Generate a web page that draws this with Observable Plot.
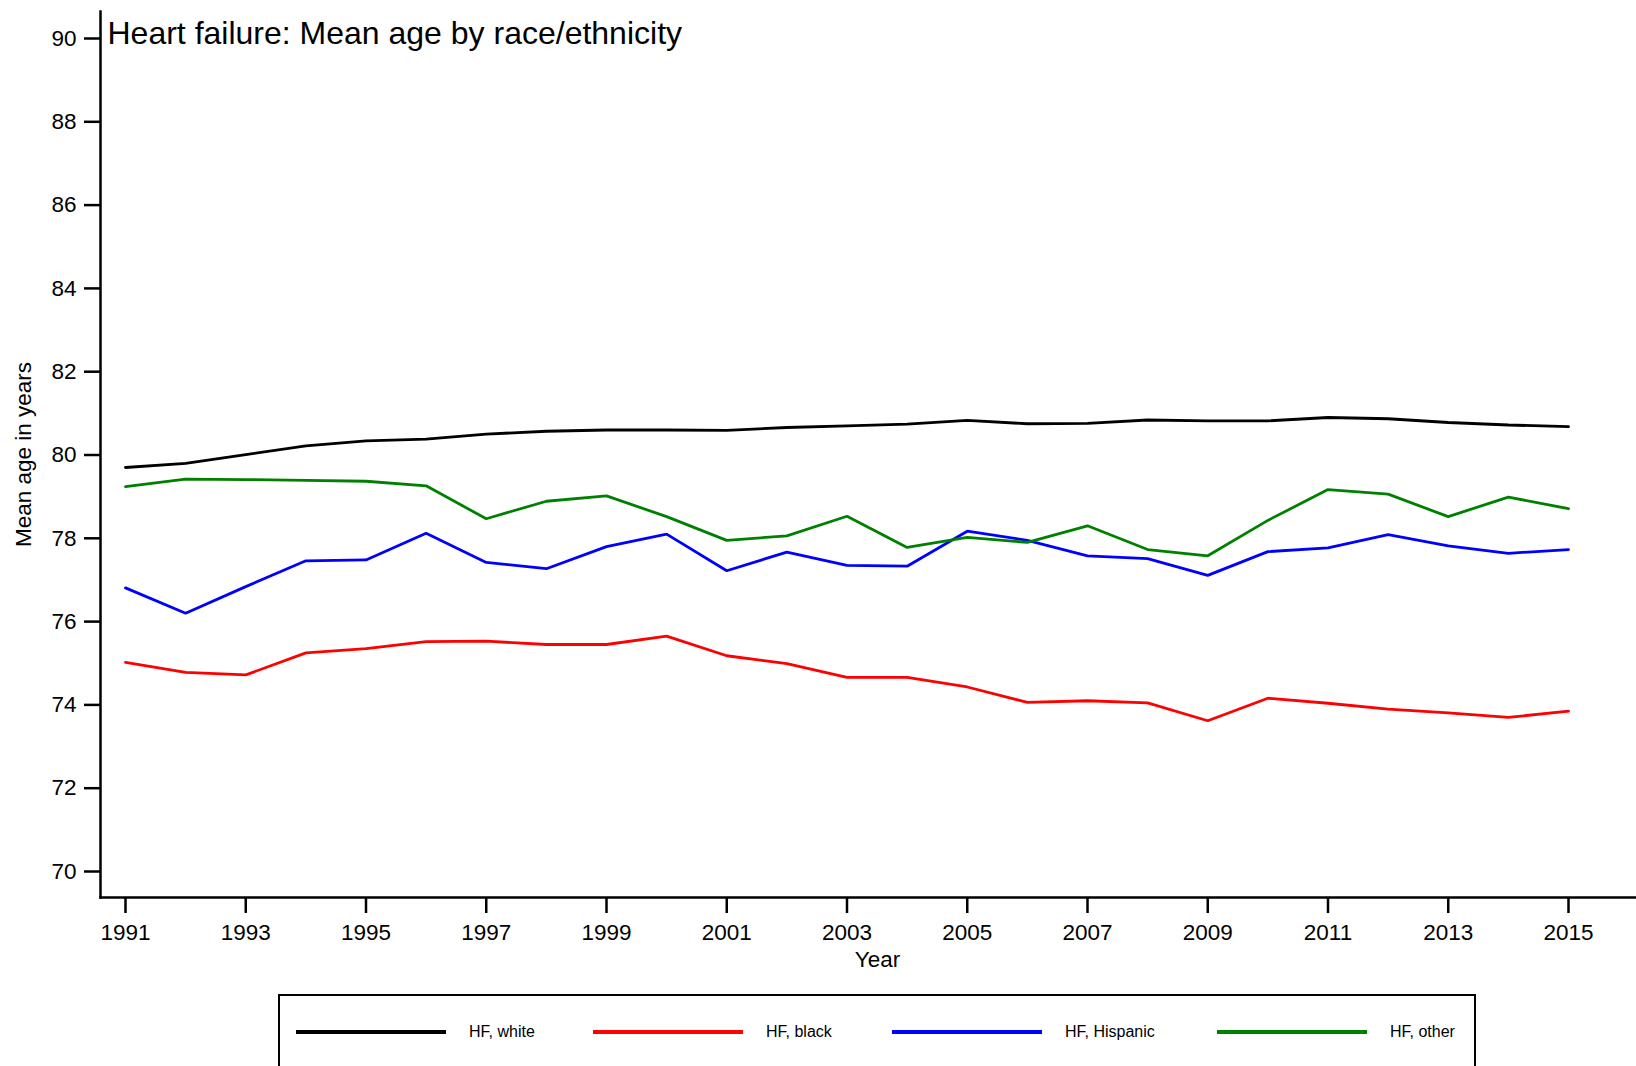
<!DOCTYPE html>
<html>
<head>
<meta charset="utf-8">
<script src="https://cdn.jsdelivr.net/npm/d3@7"></script>
<script src="https://cdn.jsdelivr.net/npm/@observablehq/plot@0.6"></script>
<style>
  html, body { margin: 0; padding: 0; background: #fff; }
  body { width: 1636px; height: 1066px; overflow: hidden; font-family: "Liberation Sans", Arial, Helvetica, sans-serif; color: #000; }
  #chart svg { display: block; }
  #legend { position: relative; margin-left: 278px; margin-top: 14px; width: 1198px; height: 76px; box-sizing: border-box;
            border: 2px solid #000; }
  .swatch { position: absolute; top: 34px; width: 150px; height: 0; border-top: 4px solid; }
  .label { position: absolute; top: 36px; transform: translateY(-50%); font-size: 16px; line-height: 1; white-space: nowrap; }
</style>
</head>
<body>
<div id="chart"></div>
<div id="legend"></div>
<script>
// Heart failure: mean age of patients by race/ethnicity, 1991–2015
const years = [1991, 1992, 1993, 1994, 1995, 1996, 1997, 1998, 1999, 2000, 2001, 2002, 2003,
               2004, 2005, 2006, 2007, 2008, 2009, 2010, 2011, 2012, 2013, 2014, 2015];
const groups = ["HF, white", "HF, black", "HF, Hispanic", "HF, other"];
const white    = [79.70, 79.80, 80.01, 80.22, 80.34, 80.38, 80.50, 80.57, 80.60, 80.60, 80.59, 80.66, 80.70,
                  80.74, 80.83, 80.75, 80.76, 80.84, 80.82, 80.82, 80.90, 80.87, 80.78, 80.72, 80.68];
const black    = [75.02, 74.78, 74.72, 75.25, 75.35, 75.52, 75.53, 75.45, 75.45, 75.65, 75.18, 74.99, 74.66,
                  74.66, 74.43, 74.06, 74.10, 74.05, 73.62, 74.16, 74.04, 73.90, 73.81, 73.70, 73.85];
const hispanic = [76.81, 76.20, 76.84, 77.46, 77.48, 78.12, 77.42, 77.27, 77.80, 78.10, 77.22, 77.67, 77.35,
                  77.33, 78.17, 77.95, 77.58, 77.51, 77.11, 77.68, 77.77, 78.09, 77.82, 77.64, 77.73];
const other    = [79.24, 79.42, 79.41, 79.39, 79.37, 79.26, 78.47, 78.89, 79.02, 78.52, 77.95, 78.06, 78.53,
                  77.78, 78.02, 77.90, 78.30, 77.73, 77.58, 78.43, 79.17, 79.06, 78.52, 78.99, 78.71];
const yearTicks = [1991, 1993, 1995, 1997, 1999, 2001, 2003, 2005, 2007, 2009, 2011, 2013, 2015];
const ageTicks = [70, 72, 74, 76, 78, 80, 82, 84, 86, 88, 90];
const titleText = "Heart failure: Mean age by race/ethnicity";
const xLabel = "Year";
const yLabel = "Mean age in years";

const lineColors = ["#000000", "#ff0000", "#0000ff", "#008000"];
const fontFamily = '"Liberation Sans", Arial, Helvetica, sans-serif';

// Long-format table for the line mark
const seriesValues = [white, black, hispanic, other];
const rows = [];
groups.forEach((g, i) => {
  years.forEach((yr, j) => rows.push({group: g, year: yr, age: seriesValues[i][j]}));
});

const chart = Plot.plot({
  width: 1636,
  height: 980,
  marginLeft: 100,
  marginRight: 0,
  marginTop: 11,
  marginBottom: 83,
  style: {fontFamily, fontSize: "22.5px", color: "#000", background: "#fff", overflow: "visible"},
  x: {domain: [1991, 2015], insetLeft: 25, insetRight: 68},
  y: {domain: [70, 90], insetTop: 27, insetBottom: 26},
  color: {domain: groups, range: lineColors},
  marks: [
    Plot.axisY({ticks: ageTicks, tickSize: 16, tickPadding: 8, strokeWidth: 2.5,
                fontSize: 22.5, label: null}),
    Plot.axisX({ticks: yearTicks, tickSize: 16, tickPadding: 11, strokeWidth: 2.5,
                tickFormat: d => String(d), fontSize: 22.5, label: null}),
    Plot.frame({anchor: "left", strokeWidth: 2.5}),
    Plot.frame({anchor: "bottom", strokeWidth: 2.5}),
    Plot.line(rows, {x: "year", y: "age", z: "group", stroke: "group", strokeWidth: 2.8,
                     strokeLinejoin: "miter"}),
    Plot.text([titleText], {text: d => d, frameAnchor: "top-left", textAnchor: "start",
                            lineAnchor: "middle", dx: 7, dy: 22.5, fontSize: 32}),
    Plot.text([yLabel], {text: d => d, frameAnchor: "left", rotate: -90, textAnchor: "middle",
                         lineAnchor: "middle", dx: -76.5, fontSize: 22.5}),
    Plot.text([xLabel], {text: d => d, frameAnchor: "bottom", textAnchor: "middle",
                         lineAnchor: "middle", dx: 9, dy: 62, fontSize: 22.5})
  ]
});
document.getElementById("chart").appendChild(chart);

// Legend row below the chart: one key line and label per group
const keyLeft = [16, 313, 612, 937];    // left edge of each key line inside the box
const labelGap = 173;                   // key line start to label start
const legend = d3.select("#legend");
groups.forEach((g, i) => {
  legend.append("div").attr("class", "swatch")
    .style("left", keyLeft[i] + "px")
    .style("border-top-color", lineColors[i]);
  legend.append("span").attr("class", "label")
    .style("left", (keyLeft[i] + labelGap) + "px")
    .text(g);
});
</script>
</body>
</html>
